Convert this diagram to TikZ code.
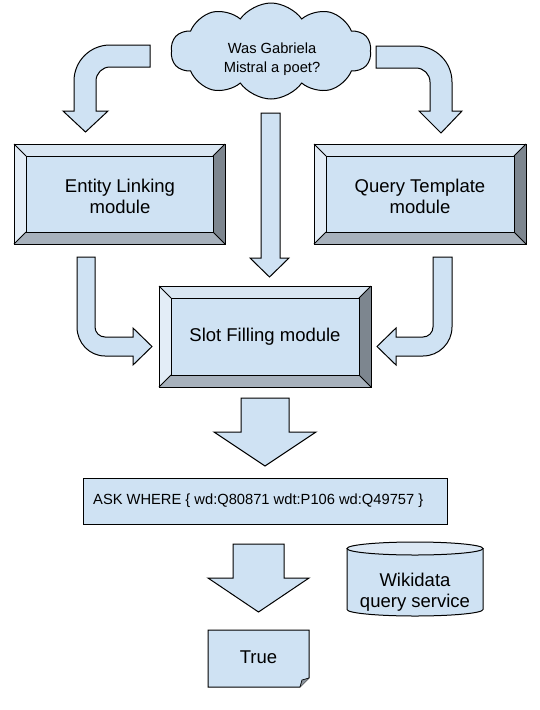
\documentclass[tikz,border=0pt]{standalone}
\usepackage{fontspec}
\setmainfont{Liberation Sans}
\usetikzlibrary{shapes.symbols}
\definecolor{fillb}{HTML}{CFE2F3}
\definecolor{bevleft}{HTML}{E3EDF7}
\definecolor{bevtop}{HTML}{D9E6F2}
\definecolor{bevright}{HTML}{7D868F}
\definecolor{bevbot}{HTML}{A7B1BC}
\definecolor{cyltop}{HTML}{DCE8F4}
\definecolor{foldc}{HTML}{8C949C}
\tikzset{
  shapeline/.style={draw=black, line width=1pt, line join=miter},
  blockarrow/.style={shapeline, fill=fillb},
  bigtext/.style={font=\fontsize{18.5}{21}\selectfont, align=center, inner sep=0pt},
  smalltext/.style={font=\fontsize{14.7}{18.5}\selectfont, align=center, inner sep=0pt},
}
\newcommand{\bevbox}[4]{%
  \fill[fillb] (#1,#2) rectangle (#3,#4);
  \fill[bevleft] (#1,#2) -- (#1+12,#2+12) -- (#1+12,#4-12) -- (#1,#4) -- cycle;
  \fill[bevtop] (#1,#2) -- (#3,#2) -- (#3-12,#2+12) -- (#1+12,#2+12) -- cycle;
  \fill[bevright] (#3,#2) -- (#3,#4) -- (#3-12,#4-12) -- (#3-12,#2+12) -- cycle;
  \fill[bevbot] (#1,#4) -- (#3,#4) -- (#3-12,#4-12) -- (#1+12,#4-12) -- cycle;
  \draw[shapeline] (#1,#2) rectangle (#3,#4);
  \draw[shapeline] (#1+12,#2+12) rectangle (#3-12,#4-12);
  \draw[shapeline] (#1,#2) -- (#1+12,#2+12) (#3,#2) -- (#3-12,#2+12)
    (#3,#4) -- (#3-12,#4-12) (#1,#4) -- (#1+12,#4-12);
}
\begin{document}
\begin{tikzpicture}[x=1pt,y=-1pt]
\useasboundingbox[fill=white] (0,0) rectangle (540,710);

% cloud
\node[cloud, cloud puffs=10, cloud puff arc=110, aspect=2.1, draw=black, line width=1pt,
  fill=fillb, minimum width=200pt, minimum height=96pt, inner sep=0pt] (cloud) at (271,51) {};
\node[smalltext] (question) at (272,59) {Was Gabriela\\Mistral a poet?};

% top-left bent arrow
\draw[blockarrow] (150,45) -- (110,45) .. controls (90.1,45) and (74,61.1) .. (74,81)
  -- (74,111) -- (63,111) -- (85.5,132) -- (108,111) -- (96,111) -- (96,81)
  .. controls (96,73.3) and (102.3,67) .. (110,67) -- (150,67) -- cycle;

% top-right bent arrow
\draw[blockarrow] (376,46) -- (416,46) .. controls (435.9,46) and (452,62.1) .. (452,82)
  -- (452,111) -- (462,111) -- (441,133) -- (419,111) -- (430,111) -- (430,82)
  .. controls (430,74.3) and (423.7,68) .. (416,68) -- (376,68) -- cycle;

% middle straight arrow
\draw[blockarrow] (261,113) -- (280,113) -- (280,258) -- (289,258) -- (269.5,277)
  -- (250,258) -- (261,258) -- cycle;

% module boxes
\bevbox{14}{144}{225}{244}
\node[bigtext] (el) at (120,196) {Entity Linking\\module};
\bevbox{314}{144}{526}{244}
\node[bigtext] (qt) at (420,196) {Query Template\\module};
\bevbox{159}{286}{371}{387}
\node[bigtext] (sf) at (265,337) {Slot Filling module};

% lower-left bent arrow
\draw[blockarrow] (77,257) -- (77,327) .. controls (77,343) and (89.5,356) .. (105,356)
  -- (133,356) -- (133,365) -- (152,346.5) -- (133,328) -- (133,337) -- (105,337)
  .. controls (99.5,337) and (95,332.5) .. (95,327) -- (95,257) -- cycle;

% lower-right bent arrow
\draw[blockarrow] (452,257) -- (452,327) .. controls (452,343) and (439,356) .. (423,356)
  -- (396,356) -- (396,365) -- (377,346.5) -- (396,328) -- (396,337) -- (423,337)
  .. controls (428.5,337) and (433,332.5) .. (433,327) -- (433,257) -- cycle;

% arrow to query
\draw[blockarrow] (241,398) -- (289,398) -- (289,432) -- (316,432) -- (265,466)
  -- (214,432) -- (241,432) -- cycle;

% query box
\draw[shapeline, fill=fillb] (83,478) rectangle (447,524);
\node[smalltext, anchor=west] (ask) at (93,501) {ASK WHERE \{ wd:Q80871 wdt:P106 wd:Q49757 \}};

% arrow to result
\draw[blockarrow] (233,544) -- (284,544) -- (284,578) -- (309,578) -- (258.5,612)
  -- (208,578) -- (233,578) -- cycle;

% result note
\draw[shapeline, fill=fillb] (208,630) -- (309,630) -- (309,678) -- (300,687) -- (208,687) -- cycle;
\draw[shapeline, fill=foldc, line width=0.7pt] (309,678) -- (302,680) -- (300,687);
\node[bigtext] (true) at (258.5,657) {True};

% cylinder
\draw[shapeline, fill=fillb] (347,548.5) -- (347,609.5)
  arc[start angle=180, end angle=0, x radius=68, y radius=6.5] -- (483,548.5) -- cycle;
\draw[shapeline, fill=cyltop] (415,548.5) ellipse[x radius=68, y radius=6.5];
\node[bigtext] (wd) at (415,592) {Wikidata\\query service};
\end{tikzpicture}
\end{document}
